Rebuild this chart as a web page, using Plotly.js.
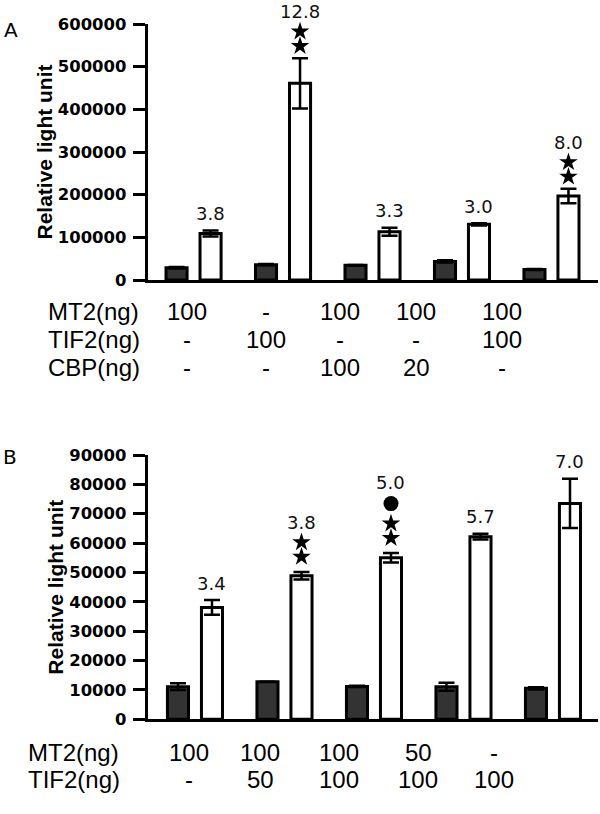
<!DOCTYPE html>
<html>
<head>
<meta charset="utf-8">
<script src="https://cdn.plot.ly/plotly-3.0.1.min.js"></script>
<style>html,body{margin:0;padding:0;background:#fff;}#chart{width:600px;height:814px;}</style>
</head>
<body>
<div id="chart"></div>
<script>
// ---------- Panel A data ----------
const groupsA = [0, 1, 2, 3, 4];
const darkA = [28700, 36000, 34300, 43500, 24600];
const darkAErr = [1500, 1500, 1000, 2500, 1000];
const whiteA = [109000, 461000, 113000, 130500, 197000];
const whiteAErr = [7000, 59000, 9500, 2500, 17000];
const foldA = ['3.8', '12.8', '3.3', '3.0', '8.0'];
const starsA = [0, 2, 0, 0, 2];
const circleA = [0, 0, 0, 0, 0];
const rowLabelsA = ['MT2(ng)', 'TIF2(ng)', 'CBP(ng)'];
const mt2A = ['100', '-', '100', '100', '100'];
const tif2A = ['-', '100', '-', '-', '100'];
const cbpA = ['-', '-', '100', '20', '-'];

// ---------- Panel B data ----------
const groupsB = [0, 1, 2, 3, 4];
const darkB = [11100, 12800, 11200, 11100, 10550];
const darkBErr = [1150, 0, 200, 1350, 400];
const whiteB = [38100, 48900, 55000, 62200, 73500];
const whiteBErr = [2500, 1300, 1600, 1000, 8400];
const foldB = ['3.4', '3.8', '5.0', '5.7', '7.0'];
const starsB = [0, 2, 2, 0, 0];
const circleB = [0, 0, 1, 0, 0];
const rowLabelsB = ['MT2(ng)', 'TIF2(ng)'];
const mt2B = ['100', '100', '100', '50', '-'];
const tif2B = ['-', '50', '100', '100', '100'];

// ---------- layout constants ----------
const W = 600, H = 814, ML = 148, MR = 2;
const BARGAP = 0.24, BARGROUPGAP = 0.38;
const plotW = W - ML - MR;
const px2paperX = x => (x - ML) / plotW;
const px2paperY = y => (H - y) / H;

const domA = [px2paperY(280), px2paperY(24)], rangeA = [0, 600000];
const domB = [px2paperY(719.3), px2paperY(455)], rangeB = [0, 90000];
const unitsPerPx = (dom, rng) => (rng[1] - rng[0]) / ((dom[1] - dom[0]) * H);

function barTraces(groups, dark, darkErr, white, whiteErr, xa, ya) {
  const eb = arr => ({type: 'data', array: arr, visible: true, color: '#000', thickness: 2.5, width: 8});
  return [
    {type: 'bar', x: groups, y: dark, xaxis: xa, yaxis: ya, error_y: eb(darkErr),
     marker: {color: '#333333', line: {color: '#000', width: 3}}, hoverinfo: 'y'},
    {type: 'bar', x: groups, y: white, xaxis: xa, yaxis: ya, error_y: eb(whiteErr),
     marker: {color: '#ffffff', line: {color: '#000', width: 3}}, hoverinfo: 'y'}
  ];
}

const annotations = [];
const symbolTraces = [];
function foldMarks(groups, white, whiteErr, fold, stars, circle, xa, ya, upp, firstStar) {
  const off = (1 - BARGAP) / 4; // centre of the white (second) bar in each group
  const sx = [], sy = [], cx = [], cy = [];
  groups.forEach((g, i) => {
    const top = white[i] + whiteErr[i];
    let shift = 0;
    let last = 'none';
    for (let s = 0; s < stars[i]; s++) {
      shift += (s === 0) ? firstStar : 14.5;
      sx.push(g + off); sy.push(top + shift * upp);
      last = 'star';
    }
    if (circle[i]) {
      shift += 20;
      cx.push(g + off); cy.push(top + shift * upp);
      last = 'circle';
    }
    shift += (last === 'none') ? 17 : (last === 'circle' ? 21 : 20);
    annotations.push({x: g + off, y: top, xref: xa, yref: ya, text: fold[i], showarrow: false,
      yshift: shift, yanchor: 'middle', font: {family: 'DejaVu Sans', size: 18, color: '#111'}});
  });
  symbolTraces.push({type: 'scatter', mode: 'markers', x: sx, y: sy, xaxis: xa, yaxis: ya, cliponaxis: false,
    marker: {symbol: 'star', size: 14, color: '#000', line: {width: 0}}, hoverinfo: 'skip'});
  symbolTraces.push({type: 'scatter', mode: 'markers', x: cx, y: cy, xaxis: xa, yaxis: ya, cliponaxis: false,
    marker: {symbol: 'circle', size: 15, color: '#000', line: {width: 0}}, hoverinfo: 'skip'});
}
foldMarks(groupsA, whiteA, whiteAErr, foldA, starsA, circleA, 'x', 'y', unitsPerPx(domA, rangeA), 12);
foldMarks(groupsB, whiteB, whiteBErr, foldB, starsB, circleB, 'x2', 'y2', unitsPerPx(domB, rangeB), 15);

// table text
const tableFont = {family: 'Liberation Sans, Arial, sans-serif', size: 24, color: '#000'};
function table(labels, rows, labelX, rowYs, colXs) {
  labels.forEach((lab, r) => {
    annotations.push({xref: 'paper', yref: 'paper', x: px2paperX(labelX), y: px2paperY(rowYs[r]),
      xanchor: 'left', yanchor: 'middle', text: lab, showarrow: false, font: tableFont});
    rows[r].forEach((v, c) => {
      annotations.push({xref: 'paper', yref: 'paper', x: px2paperX(colXs[c]), y: px2paperY(rowYs[r]),
        xanchor: 'center', yanchor: 'middle', text: v, showarrow: false, font: tableFont});
    });
  });
}
table(rowLabelsA, [mt2A, tif2A, cbpA], 46, [312, 339, 367], [187, 266, 340, 416, 502]);
table(rowLabelsB, [mt2B, tif2B], 26, [752, 779], [189, 260, 339, 418, 494]);

// panel letters
annotations.push({xref: 'paper', yref: 'paper', x: px2paperX(11), y: px2paperY(30), text: 'A',
  showarrow: false, xanchor: 'center', yanchor: 'middle', font: {family: 'DejaVu Sans', size: 20, color: '#000'}});
annotations.push({xref: 'paper', yref: 'paper', x: px2paperX(10), y: px2paperY(457), text: 'B',
  showarrow: false, xanchor: 'center', yanchor: 'middle', font: {family: 'DejaVu Sans', size: 20, color: '#000'}});

const TICK_SIZE0 = 16;
const xCommon = {showline: true, linewidth: 3, linecolor: '#000', ticks: '', showticklabels: false,
  showgrid: false, zeroline: false, fixedrange: true};
const yCommon = {tickformat: 'd', ticks: 'outside', ticklen: 12, tickwidth: 3, tickcolor: '#000',
  ticksuffix: '\u2009', showline: true, linewidth: 3, linecolor: '#000', showgrid: false, zeroline: false,
  tickfont: {family: 'DejaVu Sans', size: TICK_SIZE0, weight: 'bold', color: '#000'},
  title: {text: 'Relative light unit', standoff: 0,
    font: {family: 'Liberation Sans, Arial, sans-serif', size: 21, weight: 'bold', color: '#000'}}};

const layout = {
  width: W, height: H, margin: {l: ML, r: MR, t: 0, b: 0},
  paper_bgcolor: '#fff', plot_bgcolor: '#fff', showlegend: false,
  barmode: 'group', bargap: BARGAP, bargroupgap: BARGROUPGAP,
  xaxis: Object.assign({}, xCommon, {domain: [0, 1], range: [-0.509, 4.52], anchor: 'y'}),
  yaxis: Object.assign({}, yCommon, {domain: domA, range: rangeA, dtick: 100000, anchor: 'x'}),
  xaxis2: Object.assign({}, xCommon, {domain: [0, 1], range: [-0.525, 4.503], anchor: 'y2'}),
  yaxis2: Object.assign({}, yCommon, {domain: domB, range: rangeB, dtick: 10000, anchor: 'x2'}),
  annotations: annotations
};

const data = [].concat(
  barTraces(groupsA, darkA, darkAErr, whiteA, whiteAErr, 'x', 'y'),
  barTraces(groupsB, darkB, darkBErr, whiteB, whiteBErr, 'x2', 'y2'),
  symbolTraces
);

Plotly.newPlot('chart', data, layout, {displayModeBar: false, staticPlot: true}).then(gd => {
  // fit the tick-label font so the widest label ("600000") is ~72px wide (incl. thin space)
  let w = 0;
  gd.querySelectorAll('.ytick text').forEach(t => {
    if (t.textContent.indexOf('600000') === 0) w = t.getBBox().width;
  });
  if (w > 0) {
    const s = Math.max(12, Math.min(22, TICK_SIZE0 * 72 / w));
    return Plotly.relayout(gd, {'yaxis.tickfont.size': s, 'yaxis2.tickfont.size': s});
  }
});
</script>
</body>
</html>
